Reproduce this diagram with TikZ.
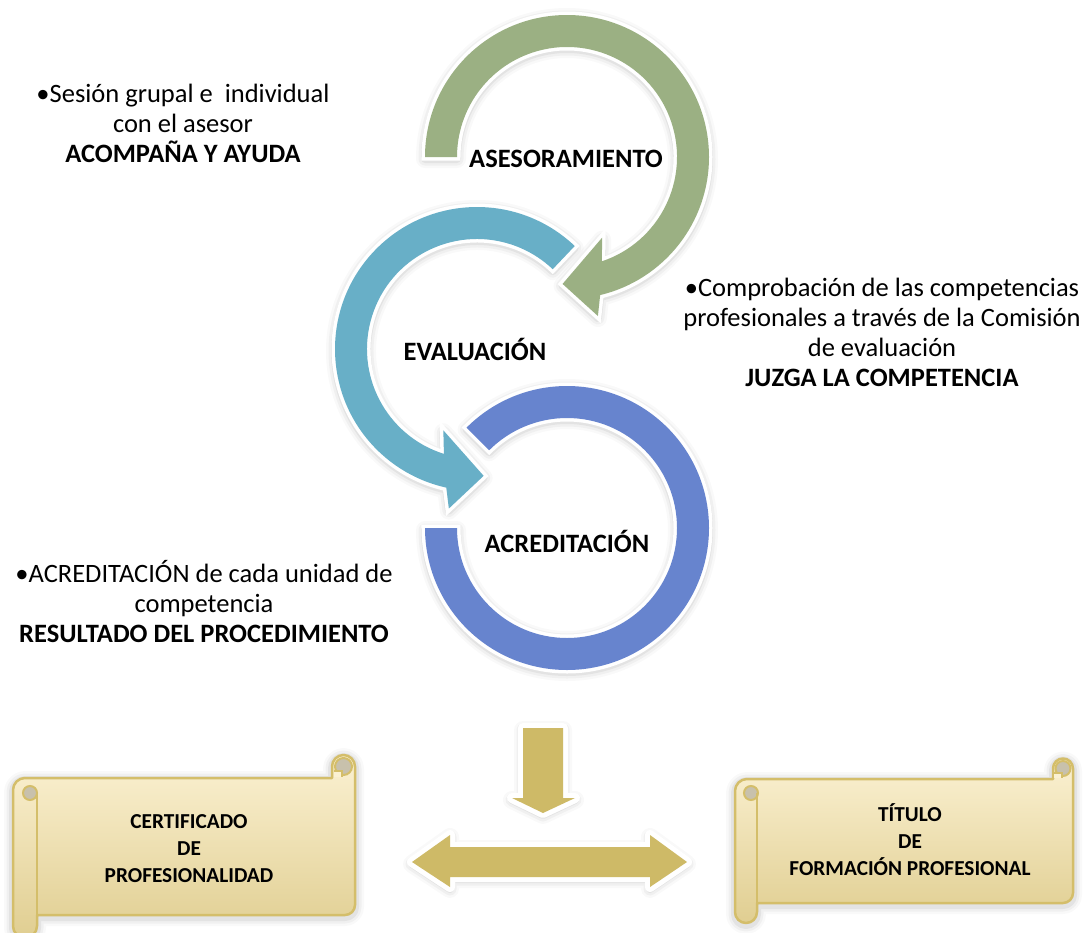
\documentclass[tikz,border=0pt]{standalone}
\usepackage{fontspec}
\setmainfont{Carlito}
\definecolor{cgreen}{RGB}{155,176,131}
\definecolor{cteal}{RGB}{104,175,199}
\definecolor{cblue}{RGB}{103,132,206}
\definecolor{cgold}{RGB}{206,186,103}
\definecolor{scrline}{RGB}{212,190,106}
\definecolor{scrtop}{RGB}{251,241,210}
\definecolor{scrbot}{RGB}{224,206,145}
\definecolor{curlgray}{RGB}{200,193,172}
\newcommand\glowit[1]{\foreach \w/\o in {18/0.025,13/0.035,8/0.05}{\draw[line width=\w pt, draw=black, draw opacity=\o, line join=round, transform canvas={yshift=-2pt}] #1;}}
% ring paths (local polar coordinates, y up)
\def\gpath{(180:142) arc[start angle=180, end angle=-76.5, radius=142] -- (-79:162) -- (-92:127) -- (-66.5:88) -- (-71.5:110) arc[start angle=-71.5, end angle=180, radius=110] -- cycle}
\def\tpath{(46.5:142) arc[start angle=46.5, end angle=257.5, radius=142] -- (260:162) -- (273:127) -- (247.5:88) -- (252.5:110) arc[start angle=252.5, end angle=46.5, radius=110] -- cycle}
\def\bpath{(135:142) arc[start angle=135, end angle=-180, radius=142] -- (180:110) arc[start angle=180, end angle=495, radius=110] -- cycle}
% gold arrows (pixel coordinates, y down)
\def\downpath{(523,728) -- (563,728) -- (563,798) -- (575,798) -- (543,813) -- (512,798) -- (523,798) -- cycle}
\def\dblpath{(412,862) -- (450,835) -- (450,847) -- (650,847) -- (650,835) -- (687,862) -- (650,887) -- (650,877) -- (450,877) -- (450,887) -- cycle}
% scrolls
\def\lscroll{(13,926) -- (13,790) .. controls (13,783.4) and (18.4,778) .. (25,778) -- (332,778) -- (332,766.5) .. controls (332,760.15) and (337.15,755) .. (343.5,755) .. controls (349.85,755) and (355,760.15) .. (355,766.5) -- (355,905) .. controls (355,910.5) and (350.5,915) .. (345,915) -- (37,915) -- (37,926) .. controls (37,932.6) and (31.6,938) .. (25,938) .. controls (18.4,938) and (13,932.6) .. (13,926) -- cycle}
\def\rscroll{(735,912) -- (735,791) .. controls (735,784.4) and (740.4,779) .. (747,779) -- (1053,779) -- (1053,768.5) .. controls (1053,763) and (1057.5,758.5) .. (1063,758.5) .. controls (1068.5,758.5) and (1073,763) .. (1073,768.5) -- (1073,893) .. controls (1073,898.5) and (1068.5,903) .. (1063,903) -- (757,903) -- (757,912) .. controls (757,918.1) and (752.1,923) .. (746,923) .. controls (739.9,923) and (735,918.1) .. (735,912) -- cycle}
\begin{document}
\begin{tikzpicture}[x=1pt,y=-1pt,
  lbl/.style={font=\fontsize{26.5}{30}\selectfont\bfseries, inner sep=0pt, anchor=base},
  note/.style={font=\fontsize{26.5}{29.8}\selectfont, align=center, inner sep=0pt, anchor=base},
  scrolltxt/.style={font=\fontsize{21.3}{27}\selectfont\bfseries, align=center, inner sep=0pt, anchor=base},
  ringfill/.style={fill=#1, preaction={draw=white, line width=7pt, line join=miter}},
  goldarrow/.style={fill=cgold, preaction={draw=white, line width=10pt, line join=round}},
  scrollshape/.style={top color=scrtop, bottom color=scrbot, draw=scrline, line width=2.5pt, line join=round},
  curl/.style={fill=curlgray, draw=scrline, line width=2pt},
  scrollline/.style={draw=scrline, line width=2.5pt}
]
\useasboundingbox (0,0) rectangle (1090,932);
\fill[white] (0,0) rectangle (1090,932);
% soft shadows
\begin{scope}[shift={(567,157)}, y=1pt] \glowit{\gpath} \end{scope}
\begin{scope}[shift={(477,349)}, y=1pt] \glowit{\tpath} \end{scope}
\begin{scope}[shift={(567,528)}, y=1pt] \glowit{\bpath} \end{scope}
\glowit{\downpath}
\glowit{\dblpath}
\glowit{\lscroll}
\glowit{\rscroll}
% rings
\begin{scope}[shift={(567,157)}, y=1pt] \path[ringfill=cgreen] \gpath; \end{scope}
\begin{scope}[shift={(477,349)}, y=1pt] \path[ringfill=cteal] \tpath; \end{scope}
\begin{scope}[shift={(567,528)}, y=1pt] \path[ringfill=cblue] \bpath; \end{scope}
% gold arrows
\path[goldarrow] \downpath;
\path[goldarrow] \dblpath;
% scrolls
\path[scrollshape] \lscroll;
\path[curl] (343.5,766.5) circle[radius=8.5];
\fill[scrtop] (334,771) rectangle (342,777);
\draw[scrline, line width=1.5pt] (334,771) -- (342,771) -- (342,777);
\path[curl] (30,793) circle[radius=7];
\draw[scrollline] (37,793) -- (37,926);
\path[scrollshape] \rscroll;
\path[curl] (1063,768.5) circle[radius=7.5];
\fill[scrtop] (1054,773) rectangle (1062,778);
\draw[scrline, line width=1.5pt] (1054,773) -- (1062,773) -- (1062,778);
\path[curl] (751,793) circle[radius=7];
\draw[scrollline] (757,793) -- (757,912);
% labels
\node[lbl] (ases) at (566,167) {ASESORAMIENTO};
\node[lbl] (eval) at (475,360) {EVALUACIÓN};
\node[lbl] (acre) at (567,552) {ACREDITACIÓN};
\node[note] (n1) at (183,162) {•Sesión grupal e\ \ individual\\con el asesor\\\textbf{ACOMPAÑA Y AYUDA}};
\node[note] (n2) at (882,386) {•Comprobación de las competencias\\profesionales a través de la Comisión\\de evaluación\\\textbf{JUZGA LA COMPETENCIA}};
\node[note] (n3) at (204,642) {•ACREDITACIÓN de cada unidad de\\competencia\\\textbf{RESULTADO DEL PROCEDIMIENTO}};
\node[scrolltxt] (c1) at (189,882) {CERTIFICADO\\DE\\PROFESIONALIDAD};
\node[scrolltxt] (c2) at (910,875) {TÍTULO\\DE\\FORMACIÓN PROFESIONAL};
\end{tikzpicture}
\end{document}
